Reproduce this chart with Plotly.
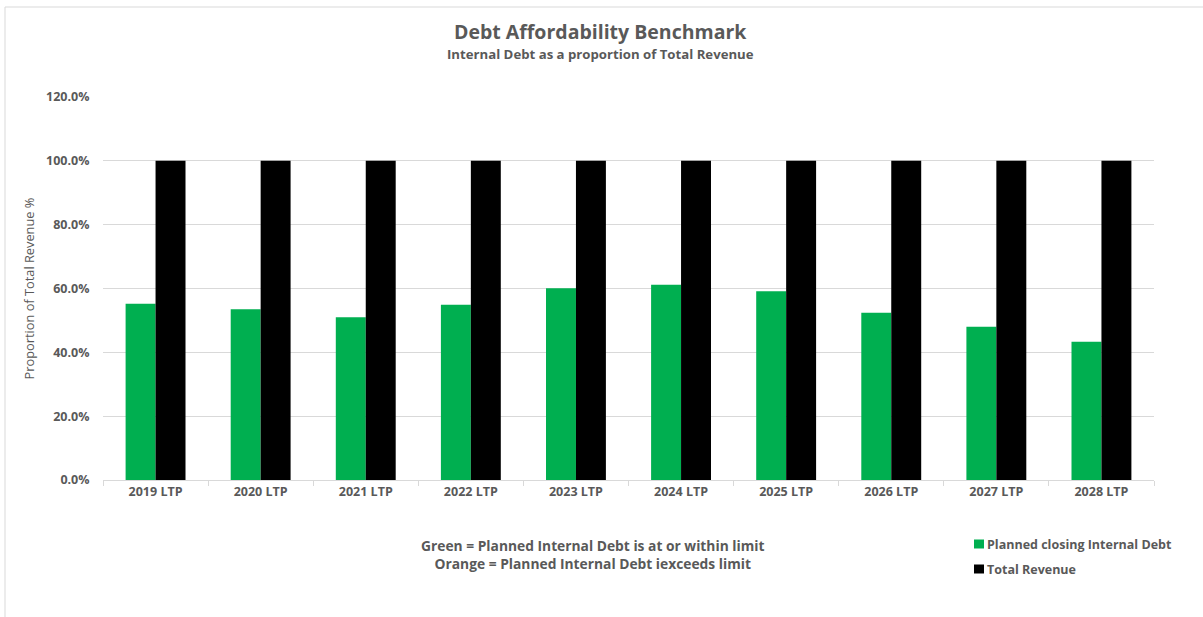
import plotly.graph_objects as go

categories = ["2019 LTP", "2020 LTP", "2021 LTP", "2022 LTP", "2023 LTP",
              "2024 LTP", "2025 LTP", "2026 LTP", "2027 LTP", "2028 LTP"]
internal_debt = [0.552, 0.535, 0.510, 0.549, 0.601, 0.612, 0.591, 0.524, 0.480, 0.433]
total_revenue = [1.0] * 10
y_ticks = [0, 0.2, 0.4, 0.6, 0.8, 1.0, 1.2]
y_tick_labels = ["0.0%", "20.0%", "40.0%", "60.0%", "80.0%", "100.0%", "120.0%"]
series_names = ["Planned closing Internal Debt", "Total Revenue"]
series_colors = ["#00AF50", "#000000"]

FONT = "Open Sans"
GREY = "#595959"

fig = go.Figure()
fig.add_trace(go.Bar(x=categories, y=internal_debt, name=series_names[0],
                     marker=dict(color=series_colors[0], line=dict(width=0))))
fig.add_trace(go.Bar(x=categories, y=total_revenue, name=series_names[1],
                     marker=dict(color=series_colors[1], line=dict(width=0))))

W, H = 1203, 617
L, R, T, B = 103, 49, 97, 137
pw, ph = W - L - R, H - T - B

def px_to_paper(x, y):
    return (x - L) / pw, (H - B - y) / ph

shapes = []
annotations = []
# outer chart border
bx0, by0 = px_to_paper(5, 7)
bx1, by1 = px_to_paper(1210, 625)
shapes.append(dict(type="rect", xref="paper", yref="paper", x0=bx0, x1=bx1, y0=by1, y1=by0,
                   line=dict(color="#D9D9D9", width=1), fillcolor="rgba(0,0,0,0)", layer="below"))

# title and subtitle
tx, ty = px_to_paper(600, 31)
annotations.append(dict(text="<b>Debt Affordability Benchmark</b>", x=tx, y=ty, xref="paper", yref="paper",
                        xanchor="center", yanchor="middle", showarrow=False,
                        font=dict(size=19.5, color=GREY, family=FONT)))
tx, ty = px_to_paper(600, 54)
annotations.append(dict(text="<b>Internal Debt as a proportion of Total Revenue</b>", x=tx, y=ty,
                        xref="paper", yref="paper", xanchor="center", yanchor="middle", showarrow=False,
                        font=dict(size=13.2, color=GREY, family=FONT)))

# manual legend
for i, (name, col) in enumerate(zip(series_names, series_colors)):
    cy = 544 + 25 * i
    x0, y0 = px_to_paper(974, cy - 4.5)
    x1, y1 = px_to_paper(984, cy + 4.5)
    shapes.append(dict(type="rect", xref="paper", yref="paper", x0=x0, x1=x1, y0=y1, y1=y0,
                       line=dict(width=0), fillcolor=col))
    lx, ly = px_to_paper(985, cy)
    annotations.append(dict(text="<b>" + name + "</b>", x=lx, y=ly, xref="paper", yref="paper",
                            xanchor="left", yanchor="middle", showarrow=False,
                            font=dict(size=12.5, color=GREY, family=FONT)))

ax, ay = px_to_paper(592, 554.5)
annotations.append(dict(text="<b>Green = Planned Internal Debt is at or within limit</b><br><b>Orange = Planned Internal Debt iexceeds limit</b>",
                        x=ax, y=ay, xref="paper", yref="paper", xanchor="center", yanchor="middle",
                        showarrow=False, align="center", font=dict(size=13.8, color=GREY, family=FONT)))

fig.update_layout(
    width=W, height=H,
    margin=dict(l=L, r=R, t=T, b=B, autoexpand=False),
    paper_bgcolor="white", plot_bgcolor="white",
    barmode="group", bargap=0.43, bargroupgap=0,
    font=dict(family=FONT, color=GREY),
    xaxis=dict(showgrid=False, showline=True, linecolor="#D9D9D9", linewidth=1,
               ticks="outside", tickson="boundaries", ticklen=5, tickcolor="#D9D9D9",
               tickfont=dict(size=12.5, color=GREY, family=FONT), tickprefix="<b>", ticksuffix="</b>"),
    yaxis=dict(range=[0, 1.2], tickvals=y_ticks, ticktext=["<b>" + t + "</b>" for t in y_tick_labels],
               showgrid=True, gridcolor="#D9D9D9", gridwidth=1, zeroline=False, showline=False,
               ticks="outside", ticklen=10, tickcolor="white",
               tickfont=dict(size=12.5, color=GREY, family=FONT),
               title=dict(text="Proportion of Total Revenue %", font=dict(size=12.8, color=GREY, family=FONT), standoff=8)),
    showlegend=False,
    annotations=annotations,
    shapes=shapes,
)
fig.write_html("out.html", config={"displayModeBar": False},
               post_script="document.body.style.margin='0';document.body.style.overflow='hidden';")
